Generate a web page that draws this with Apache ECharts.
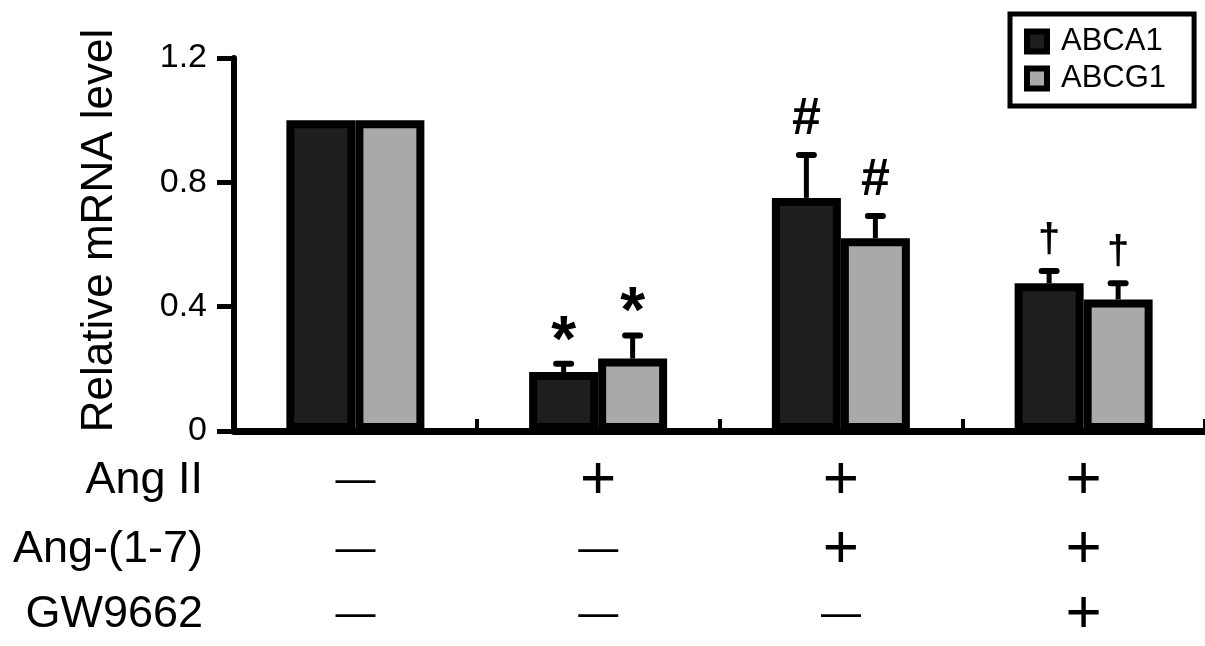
<!DOCTYPE html>
<html>
<head>
<meta charset="utf-8">
<script src="https://cdn.jsdelivr.net/npm/echarts@6/dist/echarts.min.js"></script>
<style>
html,body{margin:0;padding:0;background:#fff;}
#chart{width:1205px;height:646px;}
</style>
</head>
<body>
<div id="chart"></div>
<script>
// ---- data ----
const categories = ['Control', 'Ang II', 'Ang II + Ang-(1-7)', 'Ang II + Ang-(1-7) + GW9662'];
const seriesNames = ['ABCA1', 'ABCG1'];
const abca1 = [1.0, 0.19, 0.75, 0.475];
const abcg1 = [1.0, 0.233, 0.62, 0.423];
const abca1Upper = [null, 0.216, 0.888, 0.515];
const abcg1Upper = [null, 0.307, 0.692, 0.475];
const abca1Marks = ['', '*', '#', '\u2020'];
const abcg1Marks = ['', '*', '#', '\u2020'];
const rowNames = ['Ang II', 'Ang-(1-7)', 'GW9662'];
const rowAngII = ['\u2014', '+', '+', '+'];
const rowAng17 = ['\u2014', '\u2014', '+', '+'];
const rowGW = ['\u2014', '\u2014', '\u2014', '+'];
const yMin = 0, yMax = 1.2, yInterval = 0.4;
const yName = 'Relative mRNA level';

// ---- style ----
const FONT = '"Liberation Sans", Arial, Helvetica, sans-serif';
const BAR_W = 69;
const markStyle = {
  '*': {size: 64, weight: 'bold', dy: 21},
  '#': {size: 52, weight: 'bold', dy: 35},
  '\u2020': {size: 40, weight: 'bold', dy: 30}
};

const chart = echarts.init(document.getElementById('chart'));

function errRenderer(sign, marks) {
  return function (params, api) {
    const cat = api.value(0);
    const mean = api.value(1);
    const up = api.value(2);
    if (up == null || isNaN(up)) return null;
    const pBar = api.coord([cat, mean]);
    const pUp = api.coord([cat, up]);
    const x = pBar[0] + sign * BAR_W / 2;
    const children = [
      {type: 'line', shape: {x1: x, y1: pBar[1], x2: x, y2: pUp[1]}, style: {stroke: '#000', lineWidth: 5}},
      {type: 'line', shape: {x1: x - 7.5, y1: pUp[1], x2: x + 7.5, y2: pUp[1]}, style: {stroke: '#000', lineWidth: 6, lineCap: 'round'}}
    ];
    const m = marks[params.dataIndex];
    if (m) {
      const ms = markStyle[m];
      children.push({type: 'text', style: {
        text: m, x: x, y: pUp[1] - ms.dy, align: 'center', verticalAlign: 'middle',
        fontSize: ms.size, fontWeight: ms.weight, fontFamily: FONT, fill: '#000'
      }});
    }
    return {type: 'group', children: children};
  };
}

function signAxis(name, data, offset) {
  return {
    type: 'category', gridIndex: 0, position: 'bottom', offset: offset, data: data,
    axisLine: {show: false}, axisTick: {show: false}, splitLine: {show: false},
    axisLabel: {
      interval: 0, margin: 0, verticalAlign: 'middle',
      formatter: function (v) { return v === '+' ? '{p|+}' : '{m|\u2014}'; },
      rich: {
        p: {fontSize: 62, fontFamily: FONT, color: '#000', verticalAlign: 'middle', lineHeight: 62},
        m: {fontSize: 40, fontFamily: FONT, color: '#000', verticalAlign: 'middle', lineHeight: 62}
      }
    },
    name: name, nameLocation: 'start', nameGap: 31,
    nameTextStyle: {fontSize: 45, fontFamily: FONT, color: '#000', align: 'right', verticalAlign: 'middle'},
    silent: true
  };
}

const option = {
  backgroundColor: '#fff',
  animation: false,
  textStyle: {fontFamily: FONT},
  grid: {left: 234, top: 58, width: 984, height: 373, containLabel: false},
  legend: {
    data: seriesNames, orient: 'vertical', left: 1010, top: 14,
    padding: [12, 28, 12, 14], itemWidth: 20, itemHeight: 20, itemGap: 6,
    icon: 'rect', borderColor: '#000', borderWidth: 5,
    itemStyle: {borderColor: '#000', borderWidth: 6},
    textStyle: {fontSize: 31, color: '#000', fontFamily: FONT, padding: [0, 0, 0, 9]}
  },
  xAxis: [
    {
      type: 'category', data: categories, gridIndex: 0, position: 'bottom',
      axisLine: {lineStyle: {color: '#000', width: 7}},
      axisTick: {show: true, inside: true, length: 12, lineStyle: {color: '#000', width: 4}},
      axisLabel: {show: false}, splitLine: {show: false}
    },
    signAxis(rowNames[0], rowAngII, 50),
    signAxis(rowNames[1], rowAng17, 119),
    signAxis(rowNames[2], rowGW, 184)
  ],
  yAxis: {
    type: 'value', min: yMin, max: yMax, interval: yInterval,
    axisLine: {show: true, lineStyle: {color: '#000', width: 6}},
    axisTick: {show: true, length: 17, lineStyle: {color: '#000', width: 5}},
    splitLine: {show: false},
    axisLabel: {fontSize: 34, color: '#000', fontFamily: FONT, margin: 27},
    name: yName, nameLocation: 'middle', nameGap: 112,
    nameTextStyle: {fontSize: 44, color: '#000', fontFamily: FONT, padding: [0, 0, 0, 28]}
  },
  series: [
    {
      name: seriesNames[0], type: 'bar', xAxisIndex: 0, data: abca1, barWidth: BAR_W, barGap: '0%',
      itemStyle: {color: '#1e1e1e', borderColor: '#000', borderWidth: 8}
    },
    {
      name: seriesNames[1], type: 'bar', xAxisIndex: 0, data: abcg1, barWidth: BAR_W, barGap: '0%',
      itemStyle: {color: '#a9a9a9', borderColor: '#000', borderWidth: 8}
    },
    {
      type: 'custom', xAxisIndex: 0, z: 5, silent: true,
      encode: {x: 0, y: 2},
      renderItem: errRenderer(-1, abca1Marks),
      data: categories.map(function (c, i) { return [i, abca1[i], abca1Upper[i]]; })
    },
    {
      type: 'custom', xAxisIndex: 0, z: 5, silent: true,
      encode: {x: 0, y: 2},
      renderItem: errRenderer(1, abcg1Marks),
      data: categories.map(function (c, i) { return [i, abcg1[i], abcg1Upper[i]]; })
    }
  ]
};
chart.setOption(option);
</script>
</body>
</html>
